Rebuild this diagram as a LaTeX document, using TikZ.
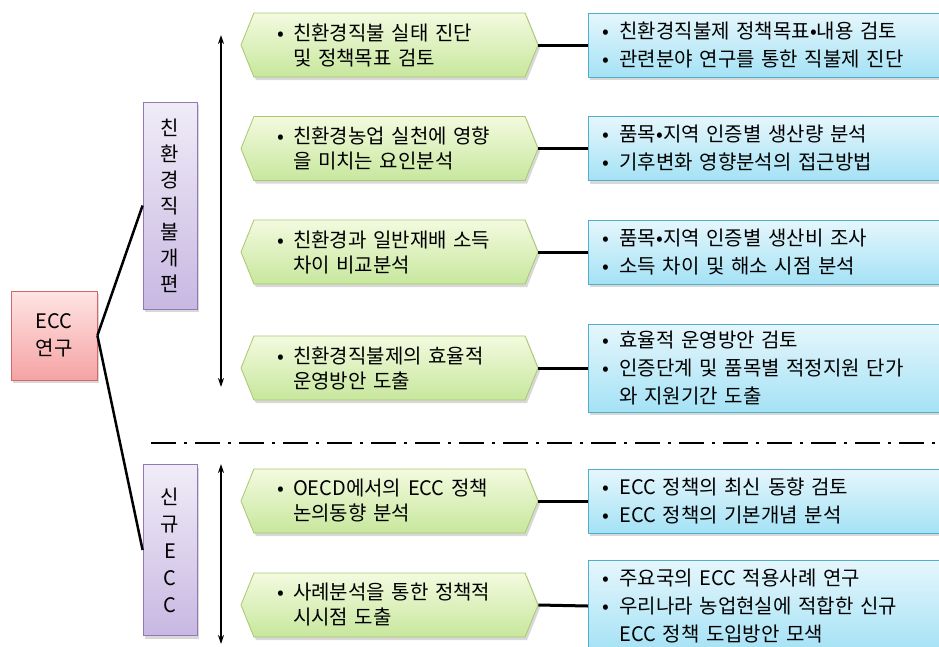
\documentclass[tikz,border=0pt]{standalone}
\usepackage{fontspec}
\setmainfont{Noto Sans CJK KR}
\usetikzlibrary{shapes.symbols,shadows,arrows.meta}
\definecolor{hextop}{HTML}{F3FADF}
\definecolor{hexbot}{HTML}{C7E79D}
\definecolor{hexline}{HTML}{A9C76E}
\definecolor{bluetop}{HTML}{E6F6FC}
\definecolor{bluebot}{HTML}{A4E2F5}
\definecolor{blueline}{HTML}{4FAFCB}
\definecolor{purtop}{HTML}{F0ECF7}
\definecolor{purbot}{HTML}{C8B8E2}
\definecolor{purline}{HTML}{9079B5}
\definecolor{pinktop}{HTML}{FFE4E4}
\definecolor{pinkbot}{HTML}{F5A3A3}
\definecolor{pinkline}{HTML}{D06A6A}
\newcommand\bu{\makebox[16pt][l]{•}}
\newcommand\ind{\hspace*{16pt}}
\newcommand\bub{\makebox[17pt][l]{•}}
\newcommand\indb{\hspace*{17pt}}
\tikzset{
  shade/.style={drop shadow={opacity=0.3, shadow xshift=2pt, shadow yshift=-3pt}},
  hexbox/.style={signal, signal to=west and east, signal pointer angle=136,
    minimum width=297pt, minimum height=64pt, text width=225pt,
    inner xsep=23pt, inner ysep=0pt, align=left,
    draw=hexline, line width=0.8pt, top color=hextop, bottom color=hexbot, shade,
    font=\fontsize{20}{25}\selectfont},
  infobox/.style={rectangle, anchor=west, minimum width=360pt, text width=332pt,
    inner xsep=14pt, inner ysep=0pt, align=left,
    draw=blueline, line width=0.8pt, top color=bluetop, bottom color=bluebot, shade,
    font=\fontsize{20}{28}\selectfont},
  vbox/.style={rectangle, minimum width=54pt, inner sep=0pt, align=center,
    draw=purline, line width=0.8pt, top color=purtop, bottom color=purbot, shade,
    font=\fontsize{20}{26}\selectfont},
  rootbox/.style={rectangle, minimum width=86pt, minimum height=89pt, inner sep=0pt, align=center,
    draw=pinkline, line width=0.8pt, top color=pinktop, bottom color=pinkbot, shade,
    font=\fontsize{20}{27}\selectfont},
  link/.style={line width=3pt, black},
  branch/.style={line width=2.5pt, black},
  span/.style={line width=1.6pt, {Stealth[length=9pt,width=6pt]}-{Stealth[length=9pt,width=6pt]}},
  divider/.style={line width=2.5pt, dash pattern=on 25pt off 8pt on 3pt off 8pt}
}
\begin{document}
\begin{tikzpicture}[x=1pt,y=1pt]
\useasboundingbox (0,0) rectangle (939,-646);
\clip (0,0) rectangle (939,-646);
\fill[white] (0,0) rectangle (939,-646);

% root
\node[rootbox] (root) at (54,-335.5) {ECC\\연구};
% vertical group boxes
\node[vbox, minimum height=207pt] (p1) at (170,-205.5) {친\\환\\경\\직\\불\\개\\편};
\node[vbox, minimum height=171pt, font=\fontsize{20}{27}\selectfont] (p2) at (170,-550) {신\\규\\E\\C\\C};

\draw[branch] (root.east) -- (p1.west);
\draw[branch] (root.east) -- (p2.west);

% span arrows
\coordinate (s1t) at (221,-35);
\coordinate (s1b) at (221,-387);
\coordinate (s2t) at (221,-464);
\coordinate (s2b) at (221,-644);
\draw[span] (s1t) -- (s1b);
\draw[span] (s2t) -- (s2b);

% divider
\coordinate (d1) at (151,-443);
\coordinate (d2) at (945,-443);
\draw[divider] (d1) -- (d2);

% hexagons
\node[hexbox] (h1) at (389.5,-45) {\bu 친환경직불 실태 진단\\\ind 및 정책목표 검토};
\node[hexbox] (h2) at (389.5,-148.5) {\bu 친환경농업 실천에 영향\\\ind 을 미치는 요인분석};
\node[hexbox] (h3) at (389.5,-252) {\bu 친환경과 일반재배 소득\\\ind 차이 비교분석};
\node[hexbox] (h4) at (389.5,-368) {\bu 친환경직불제의 효율적\\\ind 운영방안 도출};
\node[hexbox] (h5) at (389.5,-501) {\bu OECD에서의 ECC 정책\\\ind 논의동향 분석};
\node[hexbox] (h6) at (389.5,-605) {\bu 사례분석을 통한 정책적\\\ind 시시점 도출};

% info boxes
\node[infobox, minimum height=64pt] (b1) at (588,-45) {\bub 친환경직불제 정책목표•내용 검토\\\bub 관련분야 연구를 통한 직불제 진단};
\node[infobox, minimum height=64pt] (b2) at (588,-148.5) {\bub 품목•지역 인증별 생산량 분석\\\bub 기후변화 영향분석의 접근방법};
\node[infobox, minimum height=64pt] (b3) at (588,-252) {\bub 품목•지역 인증별 생산비 조사\\\bub 소득 차이 및 해소 시점 분석};
\node[infobox, minimum height=88pt] (b4) at (588,-368) {\bub 효율적 운영방안 검토\\\bub 인증단계 및 품목별 적정지원 단가\\\indb 와 지원기간 도출};
\node[infobox, minimum height=64pt] (b5) at (588,-501) {\bub ECC 정책의 최신 동향 검토\\\bub ECC 정책의 기본개념 분석};
\node[infobox, minimum height=92pt] (b6) at (588,-606) {\bub 주요국의 ECC 적용사례 연구\\\bub 우리나라 농업현실에 적합한 신규\\\indb ECC 정책 도입방안 모색};

% links
\draw[link] (h1.east) -- (b1.west);
\draw[link] (h2.east) -- (b2.west);
\draw[link] (h3.east) -- (b3.west);
\draw[link] (h4.east) -- (b4.west);
\draw[link] (h5.east) -- (b5.west);
\draw[link] (h6.east) -- (b6.west);
\end{tikzpicture}
\end{document}
